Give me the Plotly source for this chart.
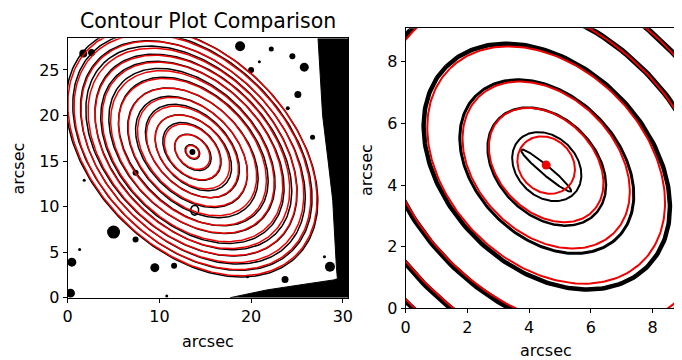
import numpy as np
import plotly.graph_objects as go

# ---------------- data ----------------
# Left panel: fitted (red) isophote ellipses
L_CX, L_CY, L_PA = 13.6, 16.0, 135.0
L_RED_SMA = [0.8, 2.2, 3.55, 4.75, 5.9, 7.05, 8.25, 9.5, 10.5, 11.6, 12.5, 13.4, 14.3, 15.2, 16.0]
L_RED_Q = [0.78, 0.72, 0.70, 0.68, 0.67, 0.665, 0.665, 0.665, 0.665, 0.665, 0.665, 0.665, 0.665, 0.665, 0.665]
# Left panel: observed (black) contours
L_BLK_SMA = [0.9, 2.3, 3.7, 4.9, 6.05, 7.2, 8.4, 9.65, 10.7, 11.8, 12.7, 13.6, 14.5, 15.4, 16.2]
L_BLK_Q = [0.76, 0.71, 0.69, 0.67, 0.66, 0.66, 0.66, 0.655, 0.66, 0.66, 0.655, 0.66, 0.655, 0.66, 0.66]
L_BLK_DX = [0.0, 0.05, -0.05, 0.1, 0.0, -0.1, 0.05, 0.1, -0.05, 0.0, 0.1, -0.1, 0.05, 0.0, -0.05]
L_BLK_DY = [0.0, -0.05, 0.05, -0.1, 0.1, 0.0, -0.1, 0.05, 0.1, -0.05, 0.0, 0.1, -0.05, 0.05, 0.0]

# Left panel: stars / blobs (x, y, marker diameter px)
STAR_X = [18.8, 22.2, 24.5, 25.8, 20.9, 20.0, 25.1, 24.0, 26.7, 5.0, 0.45, 1.3, 9.5, 11.6,
          23.7, 28.6, 28.0, 0.3, 1.7, 2.6, 7.4, 1.8, 7.4, 19.6, 10.8, 13.6]
STAR_Y = [27.6, 27.3, 26.5, 25.3, 25.9, 25.0, 22.3, 20.8, 17.6, 7.2, 3.9, 5.3, 3.3, 3.5,
          2.0, 3.4, 4.5, 0.5, 26.8, 26.9, 13.7, 12.9, 6.4, 2.3, 0.2, 16.0]
STAR_S = [10, 5, 6, 9, 3, 6, 7, 4, 5, 13, 9, 3, 9, 6,
          7, 10, 3, 9, 8, 7, 6, 3, 6, 3, 3, 6]

# Left panel: image-edge noise regions
EDGE_R_X = [27.3, 27.8, 28.4, 28.9, 29.3, 29.4, 30.6, 30.6]
EDGE_R_Y = [28.47, 20.0, 15.0, 10.7, 3.4, 2.2, 2.2, 28.47]
EDGE_B_X = [17.7, 21.7, 25.3, 29.0, 30.6, 30.6]
EDGE_B_Y = [0.0, 0.85, 1.4, 1.95, 2.5, 0.0]

# Right panel: central zoom
R_CX, R_CY, R_PA = 4.55, 4.65, 135.0
R_RED_SMA = [1.0, 2.13, 3.11, 4.42, 6.12, 7.6, 8.75]
R_RED_Q = [0.86, 0.72, 0.72, 0.72, 0.72, 0.72, 0.72]
R_BLK_SMA = [1.25, 2.2, 3.25, 4.6, 6.25, 7.75, 8.9]
R_BLK_Q = [0.78, 0.72, 0.71, 0.71, 0.71, 0.71, 0.71]
R_BLK_W = [2, 2.5, 3, 4.5, 5.5, 5.5, 5]
BAR_CX, BAR_CY, BAR_SMA, BAR_Q, BAR_PA = 4.55, 4.47, 1.05, 0.14, 140.0

# page offset of the figure (browser body margin) and figure size
OFF = 8
W, H = 682 - OFF, 360 - OFF


def fx(px):
    return (px - OFF) / W


def fy(py):
    return (360 - py) / H


def ellipse(xc, yc, a, q, pa, n=240):
    t = np.linspace(0, 2 * np.pi, n)
    th = np.radians(pa)
    x = xc + a * np.cos(t) * np.cos(th) - q * a * np.sin(t) * np.sin(th)
    y = yc + a * np.cos(t) * np.sin(th) + q * a * np.sin(t) * np.cos(th)
    return list(x), list(y)


def multi(cxs, cys, smas, qs, pa):
    X, Y = [], []
    for cx, cy, a, q in zip(cxs, cys, smas, qs):
        x, y = ellipse(cx, cy, a, q, pa)
        X += x + [None]
        Y += y + [None]
    return X, Y


fig = go.Figure()

# ---- left panel ----
fig.add_trace(go.Scatter(x=EDGE_R_X, y=EDGE_R_Y, fill="toself", fillcolor="black",
                         mode="lines", line=dict(color="black", width=1),
                         xaxis="x", yaxis="y", hoverinfo="skip"))
fig.add_trace(go.Scatter(x=EDGE_B_X, y=EDGE_B_Y, fill="toself", fillcolor="black",
                         mode="lines", line=dict(color="black", width=1),
                         xaxis="x", yaxis="y", hoverinfo="skip"))
fig.add_trace(go.Scatter(x=STAR_X, y=STAR_Y, mode="markers",
                         marker=dict(color="black", size=STAR_S, opacity=1, line=dict(width=0)),
                         xaxis="x", yaxis="y", hoverinfo="skip"))
bx, by = multi([L_CX + d for d in L_BLK_DX], [L_CY + d for d in L_BLK_DY],
               L_BLK_SMA, L_BLK_Q, L_PA)
lx, ly = ellipse(13.85, 9.6, 0.55, 0.8, 90)
bx += lx + [None]
by += ly + [None]
fig.add_trace(go.Scatter(x=bx, y=by, mode="lines", line=dict(color="black", width=1.5),
                         xaxis="x", yaxis="y", hoverinfo="skip"))
rx, ry = multi([L_CX] * len(L_RED_SMA), [L_CY] * len(L_RED_SMA), L_RED_SMA, L_RED_Q, L_PA)
fig.add_trace(go.Scatter(x=rx, y=ry, mode="lines", line=dict(color="#ee0000", width=1.5),
                         xaxis="x", yaxis="y", hoverinfo="skip"))

# ---- right panel ----
for a, q, w in zip(R_BLK_SMA, R_BLK_Q, R_BLK_W):
    x, y = ellipse(R_CX + 0.02, R_CY - 0.05, a, q, R_PA)
    fig.add_trace(go.Scatter(x=x, y=y, mode="lines", line=dict(color="black", width=w),
                             xaxis="x2", yaxis="y2", hoverinfo="skip"))
x, y = ellipse(BAR_CX, BAR_CY, BAR_SMA, BAR_Q, BAR_PA)
fig.add_trace(go.Scatter(x=x, y=y, mode="lines", line=dict(color="black", width=2),
                         xaxis="x2", yaxis="y2", hoverinfo="skip"))
rx, ry = multi([R_CX] * len(R_RED_SMA), [R_CY] * len(R_RED_SMA), R_RED_SMA, R_RED_Q, R_PA)
fig.add_trace(go.Scatter(x=rx, y=ry, mode="lines", line=dict(color="#ee0000", width=2),
                         xaxis="x2", yaxis="y2", hoverinfo="skip"))
fig.add_trace(go.Scatter(x=[R_CX], y=[R_CY], mode="markers",
                         marker=dict(color="#ee0000", size=9),
                         xaxis="x2", yaxis="y2", hoverinfo="skip"))

FONT = "DejaVu Sans"
axcommon = dict(showgrid=False, zeroline=False, showline=True, linecolor="black",
                linewidth=1, mirror=True, ticks="outside", ticklen=4, tickwidth=1,
                automargin=False,
                tickcolor="black", tickfont=dict(family=FONT, size=16, color="black"))

fig.update_layout(
    width=W, height=H,
    margin=dict(l=0, r=0, t=0, b=0, autoexpand=False),
    paper_bgcolor="white", plot_bgcolor="white",
    showlegend=False,
    xaxis=dict(domain=[fx(67.7), fx(348.3)], range=[0, 30.6], tickvals=[0, 10, 20, 30],
               anchor="y", **axcommon),
    yaxis=dict(domain=[fy(297.7), fy(38.3)], range=[0, 28.47],
               tickvals=[0, 5, 10, 15, 20, 25], anchor="x", **axcommon),
    xaxis2=dict(domain=[fx(405.7), 1.0], range=[0, 8.95], tickvals=[0, 2, 4, 6, 8],
                anchor="y2", **axcommon),
    yaxis2=dict(domain=[fy(308.3), fy(28.3)], range=[0, 9.09],
                tickvals=[0, 2, 4, 6, 8], anchor="x2", **axcommon),
    annotations=[
        dict(text="Contour Plot Comparison", x=fx(208), y=fy(21),
             xref="paper", yref="paper", xanchor="center", yanchor="middle",
             showarrow=False, font=dict(family=FONT, size=20.5, color="black")),
        dict(text="arcsec", x=fx(208), y=fy(341),
             xref="paper", yref="paper", xanchor="center", yanchor="middle",
             showarrow=False, font=dict(family=FONT, size=16, color="black")),
        dict(text="arcsec", x=fx(17.5), y=fy(169), textangle=-90,
             xref="paper", yref="paper", xanchor="center", yanchor="middle",
             showarrow=False, font=dict(family=FONT, size=16, color="black")),
        dict(text="arcsec", x=fx(546), y=fy(350),
             xref="paper", yref="paper", xanchor="center", yanchor="middle",
             showarrow=False, font=dict(family=FONT, size=16, color="black")),
        dict(text="arcsec", x=fx(366), y=fy(170), textangle=-90,
             xref="paper", yref="paper", xanchor="center", yanchor="middle",
             showarrow=False, font=dict(family=FONT, size=16, color="black")),
    ],
)

fig.write_html("out.html")
